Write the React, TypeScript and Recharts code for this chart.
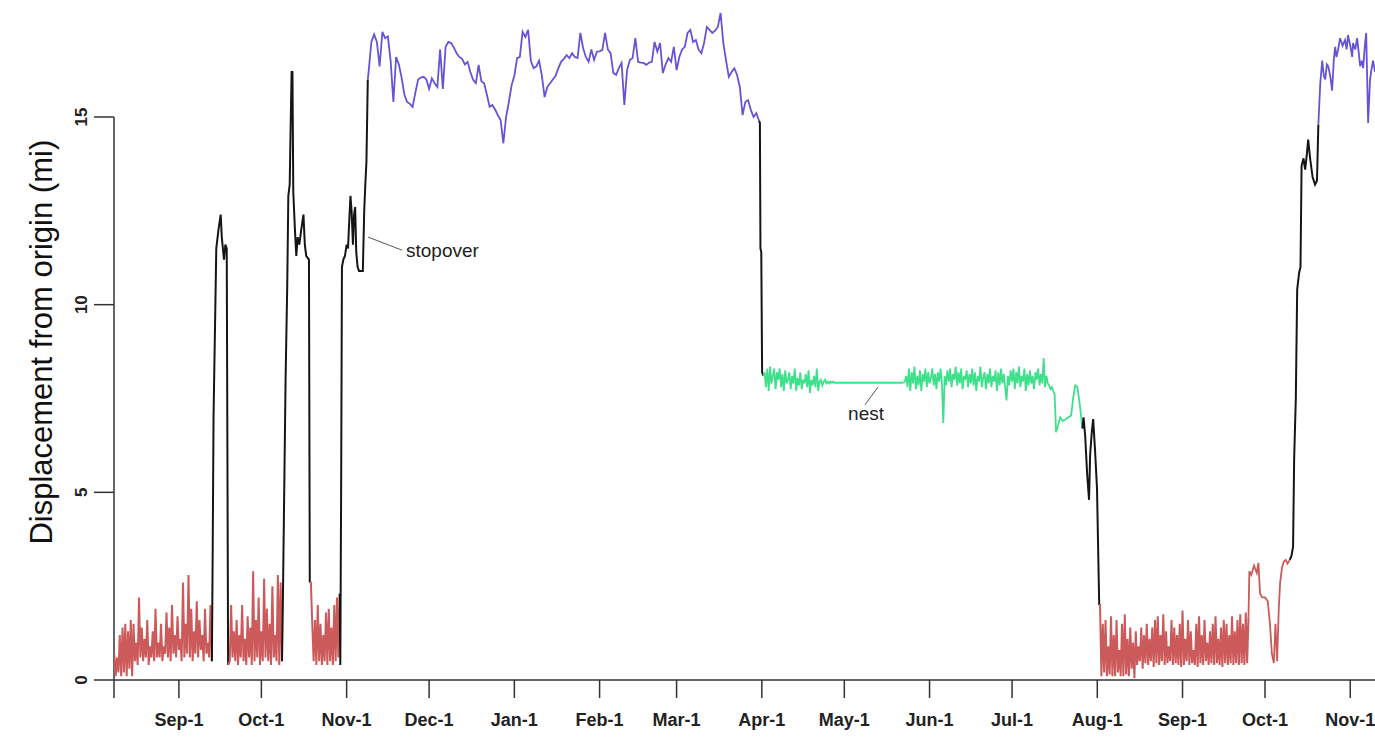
import React from 'react';
import { LineChart, Line, XAxis, YAxis, ReferenceLine, ReferenceDot } from 'recharts';

// x = days since Aug-1 of the first year
const DAY_MIN = 7.4;
const DAY_MAX = 466;
const tickDays = [7.4, 31, 61, 92, 122, 153, 184, 212, 243, 273, 304, 334, 365, 396, 426, 457];
const tickLabels = ['', 'Sep-1', 'Oct-1', 'Nov-1', 'Dec-1', 'Jan-1', 'Feb-1', 'Mar-1', 'Apr-1', 'May-1', 'Jun-1', 'Jul-1', 'Aug-1', 'Sep-1', 'Oct-1', 'Nov-1'];
const yTicks = [0, 5, 10, 15];

const RED = '#cc5a5a';
const BLACK = '#151515';
const BLUE = '#6454d8';
const GREEN = '#3fe08c';

// wintering area, fall 1 (half-day fixes from day 7.5)
const redA = [
  0.7, 0.1, 0.6, 0.2, 1.2, 0.1, 1.4, 0.2, 1.5, 0.1,
  1.3, 0.3, 1.6, 0.1, 1.5, 0.5, 1.0, 0.4, 2.2, 0.6,
  1.4, 0.5, 1.1, 0.6, 1.6, 0.4, 0.9, 0.6, 1.3, 0.5,
  1.9, 0.6, 1.0, 0.6, 1.5, 0.5, 0.9, 0.7, 1.8, 0.6,
  1.4, 0.5, 2.0, 0.7, 1.2, 0.6, 1.7, 0.8, 1.1, 0.5,
  2.6, 0.6, 1.5, 0.7, 2.8, 0.6, 1.9, 0.5, 1.3, 0.7,
  2.1, 0.6, 1.6, 0.8, 1.2, 0.5, 1.9, 0.7, 1.0, 0.6,
  2.0, 0.5,
];
const black1Days = [43.3, 43.6, 44.6, 45.4, 46.2, 46.6, 47.4, 47.9, 48.4, 48.9];
const black1 = [3.5, 7.0, 11.5, 12.0, 12.4, 11.8, 11.2, 11.6, 11.5, 0.4];
const redB = [
  0.5, 2.0, 0.6, 1.3, 0.5, 1.6, 0.4, 1.2, 0.6, 2.0,
  0.5, 1.1, 0.4, 1.7, 0.6, 1.4, 0.4, 2.9, 0.5, 1.6,
  0.6, 2.2, 0.4, 1.3, 0.5, 2.7, 0.6, 1.9, 0.5, 1.5,
  0.4, 2.5, 0.6, 1.2, 0.5, 2.8, 0.4, 2.6, 0.5,
];
const black2Days = [68.8, 69.3, 69.8, 70.4, 70.8, 71.3, 71.7, 72.0, 72.3, 72.6, 73.2, 73.7, 74.2, 74.8, 75.5, 76.3, 76.8, 77.3, 78.3, 78.6];
const black2 = [2.0, 5.0, 8.0, 10.5, 12.9, 13.2, 15.0, 16.2, 16.2, 13.0, 12.0, 11.3, 11.8, 11.6, 12.0, 12.4, 11.6, 11.3, 11.2, 2.6];
const redC = [
  2.6, 1.5, 0.5, 1.6, 0.4, 2.0, 0.5, 1.5, 0.4, 1.2,
  0.5, 1.8, 0.4, 1.9, 0.5, 1.4, 0.4, 2.0, 0.5, 2.2,
  0.6, 2.3,
];
const black3Days = [89.7, 90.0, 90.3, 90.8, 91.4, 92.0, 92.5, 93.0, 93.4, 93.8, 94.3, 94.7, 95.1, 95.5, 96.0, 96.5, 97.2, 97.9, 98.4, 98.8, 99.2, 99.7];
const black3 = [0.4, 5.0, 11.0, 11.2, 11.3, 11.6, 11.5, 12.3, 12.9, 12.5, 11.6, 12.4, 12.6, 11.4, 11.0, 10.9, 10.9, 10.9, 12.5, 13.2, 13.8, 16.0];

// winter range, daily from day 100
const blueA = [
  16.2, 17.0, 17.2, 17.0, 16.35, 17.27, 17.1, 17.15, 16.5, 15.4,
  16.6, 16.4, 16.05, 15.6, 15.4, 15.35, 15.27, 15.65, 16.0, 16.05,
  16.07, 16.0, 15.75, 16.03, 15.9, 15.8, 16.8, 15.75, 16.87, 17.0,
  16.97, 16.85, 16.7, 16.6, 16.55, 16.4, 16.47, 16.2, 15.99, 15.9,
  16.39, 15.95, 15.9, 15.6, 15.27, 15.32, 15.2, 15.05, 14.92, 14.3,
  15.0, 15.4, 15.85, 16.1, 16.57, 16.6, 17.27, 17.13, 17.32, 16.5,
  16.3, 16.35, 16.5, 16.1, 15.53, 15.8, 15.9, 16.0, 16.1, 16.3,
  16.47, 16.55, 16.65, 16.57, 16.7, 16.6, 16.57, 17.24, 16.84, 16.6,
  16.47, 16.8, 16.52, 16.74, 16.75, 16.79, 17.24, 16.8, 16.7, 16.17,
  16.12, 16.3, 16.44, 15.32, 16.25, 16.52, 16.57, 17.1, 16.47, 16.45,
  16.44, 16.39, 16.45, 16.47, 17.0, 16.74, 16.97, 16.17, 16.4, 16.57,
  16.47, 16.87, 16.25, 16.6, 16.8, 16.87, 17.24, 17.32, 17.0, 17.05,
  16.8, 16.7, 16.97, 17.4, 17.32, 17.24, 17.3, 17.4, 17.77, 16.97,
  16.5, 16.07, 16.2, 16.3, 16.12, 15.8, 15.05, 15.4, 15.45, 15.19,
  15.0, 15.1, 14.9,
];
const black4Days = [242.3, 242.5, 242.8, 243.1, 243.6];
const black4 = [14.84, 11.5, 11.4, 8.2, 8.1];

// nesting, half-day fixes from day 244
const greenA = [
  8.2, 7.8, 8.3, 7.7, 8.35, 7.9, 8.1, 8.3, 7.75, 8.2,
  8.0, 8.3, 7.8, 8.15, 7.7, 8.25, 7.9, 8.0, 8.2, 7.75,
  8.1, 7.9, 8.3, 7.7, 8.05, 7.85, 8.2, 7.75, 8.0, 7.9,
  8.15, 7.8, 8.25, 7.65, 8.0, 7.85, 8.1, 7.8, 8.3, 7.7,
  7.95, 8.0, 7.85, 7.95, 8.0, 7.9, 7.95, 7.9, 7.95, 7.92,
  7.95, 7.92, 7.92,
];
const greenBDays = [272, 280, 290, 294.5];
const greenB = [7.92, 7.92, 7.92, 7.92];
const greenC = [
  7.95, 8.1, 7.8, 8.3, 7.7, 8.2, 7.9, 8.35, 7.75, 8.1,
  7.85, 8.25, 7.7, 8.15, 7.95, 8.3, 7.8, 8.2, 7.9, 8.05,
  8.3, 7.85, 8.15, 7.75, 8.2, 7.95, 8.3, 7.9, 6.85, 8.1,
  7.85, 8.25, 7.95, 8.3, 7.8, 8.15, 8.0, 8.35, 7.85, 8.2,
  7.9, 8.3, 7.75, 8.1, 8.0, 8.25, 7.8, 8.15, 7.9, 8.3,
  7.85, 8.2, 7.7, 8.1, 7.95, 8.35, 7.8, 8.05, 8.2, 7.75,
  8.15, 7.9, 8.3, 7.8, 8.1, 7.95, 8.25, 7.7, 8.2, 7.85,
  8.3, 7.9, 8.15, 7.8, 7.45, 8.1, 7.85, 8.25, 7.95, 8.3,
  7.75, 8.2, 7.9, 8.35, 7.8, 8.1, 7.95, 8.3, 7.7, 8.15,
  7.85, 8.25, 7.9, 8.1, 7.75, 8.2, 8.0, 8.3, 7.85, 8.15,
  7.9, 8.58, 7.8, 8.1, 7.9, 7.85, 7.75, 7.8, 7.7,
];
const greenDDays = [349.5, 350.0, 350.8, 351.5, 352.5, 353.5, 354.5, 355.5, 356.2, 357.0, 357.8, 358.7, 359.6];
const greenD = [7.6, 6.6, 6.8, 7.0, 6.9, 6.95, 7.0, 7.05, 7.5, 7.85, 7.8, 7.3, 6.7];
const black5Days = [360.0, 360.6, 361.3, 362.0, 362.4, 363.0, 363.5, 364.2, 364.9, 365.7];
const black5 = [7.0, 6.5, 5.5, 4.8, 6.0, 6.6, 6.95, 6.1, 5.1, 2.0];

// fall 2, half-day fixes from day 366
const redD = [
  2.0, 0.1, 1.5, 0.2, 1.6, 0.1, 0.9, 0.15, 1.7, 0.1,
  1.2, 0.1, 1.6, 0.2, 0.8, 0.1, 1.5, 0.1, 1.75, 0.15,
  1.1, 0.1, 1.4, 0.3, 1.0, 0.05, 1.3, 0.4, 0.9, 0.5,
  1.4, 0.3, 1.2, 0.45, 1.5, 0.4, 1.1, 0.5, 1.4, 0.35,
  1.6, 0.45, 1.7, 0.4, 1.2, 0.5, 1.75, 0.4, 1.3, 0.45,
  0.9, 0.5, 1.6, 0.4, 1.4, 0.45, 1.2, 0.4, 1.5, 0.35,
  1.85, 0.4, 1.1, 0.5, 1.6, 0.4, 1.3, 0.45, 0.8, 0.4,
  1.5, 0.35, 1.7, 0.45, 1.2, 0.4, 1.6, 0.5, 1.0, 0.4,
  1.3, 0.45, 1.5, 0.4, 1.7, 0.45, 1.1, 0.4, 1.4, 0.35,
  1.6, 0.45, 1.5, 0.4, 1.2, 0.45, 1.7, 0.4, 1.3, 0.45,
  1.6, 0.4, 1.75, 0.45, 1.5, 0.4, 1.8, 0.45, 1.7,
];
const redEDays = [420.3, 421.0, 422.0, 423.0, 423.6, 424.2, 425.0, 426.0, 427.0, 427.8, 428.5, 429.2, 429.8, 430.4, 431.0, 431.5, 432.2, 432.8, 433.5, 434.2, 435.0];
const redE = [2.9, 2.8, 3.05, 2.85, 3.12, 2.3, 2.2, 2.2, 2.1, 1.5, 0.7, 0.45, 1.5, 0.5, 1.9, 2.6, 3.0, 3.15, 3.2, 3.1, 3.2];
const black6Days = [435.6, 436.2, 436.6, 437.2, 437.7, 438.4, 438.9, 439.3, 440.0, 440.6, 441.2, 441.7, 442.4, 443.3, 444.2, 444.9, 445.4];
const black6 = [3.3, 3.55, 5.9, 7.5, 10.4, 10.85, 11.0, 13.7, 13.9, 13.6, 14.0, 14.4, 13.9, 13.4, 13.2, 13.3, 14.8];
const blueBDays = [446.1, 446.8, 447.4, 447.9, 448.5, 449.0, 449.7, 450.4, 451.0, 451.5, 452.0, 452.6, 453.3, 454.2, 455.1, 455.7, 456.2, 457.0, 457.7, 458.0, 458.8, 459.5, 460.1, 460.6, 461.2, 461.7, 462.3, 462.8, 463.5, 464.2, 464.8, 465.3, 466.0];
const blueB = [15.9, 16.5, 16.1, 16.0, 16.4, 16.35, 16.1, 15.7, 16.5, 16.87, 16.6, 16.8, 17.1, 16.9, 17.05, 16.8, 17.18, 16.9, 16.6, 16.97, 16.8, 17.1, 16.7, 16.35, 16.5, 16.3, 16.9, 17.24, 14.84, 16.0, 16.3, 16.5, 16.2];

type Pt = { day: number; mi: number };
const even = (start: number, step: number, vals: number[]): Pt[] =>
  vals.map((mi, i) => ({ day: start + i * step, mi }));
const paired = (days: number[], vals: number[]): Pt[] => days.map((day, i) => ({ day, mi: vals[i] }));

const rawSegments: { color: string; width: number; pts: Pt[] }[] = [
  { color: RED, width: 2, pts: even(7.5, 0.5, redA) },
  { color: BLACK, width: 2, pts: paired(black1Days, black1) },
  { color: RED, width: 2, pts: even(49.5, 0.5, redB) },
  { color: BLACK, width: 2, pts: paired(black2Days, black2) },
  { color: RED, width: 2, pts: even(79, 0.5, redC) },
  { color: BLACK, width: 2, pts: paired(black3Days, black3) },
  { color: BLUE, width: 1.8, pts: even(100, 1, blueA) },
  { color: BLACK, width: 2, pts: paired(black4Days, black4) },
  { color: GREEN, width: 1.8, pts: even(244, 0.5, greenA) },
  { color: GREEN, width: 1.8, pts: paired(greenBDays, greenB) },
  { color: GREEN, width: 1.8, pts: even(295, 0.5, greenC) },
  { color: GREEN, width: 1.8, pts: paired(greenDDays, greenD) },
  { color: BLACK, width: 2, pts: paired(black5Days, black5) },
  { color: RED, width: 2, pts: even(366, 0.5, redD) },
  { color: RED, width: 1.8, pts: paired(redEDays, redE) },
  { color: BLACK, width: 2, pts: paired(black6Days, black6) },
  { color: BLUE, width: 1.8, pts: paired(blueBDays, blueB) },
];

// each segment starts where the previous one ended so the track is continuous
const segments = rawSegments.map((s, i) =>
  i === 0 ? s : { ...s, pts: [rawSegments[i - 1].pts[rawSegments[i - 1].pts.length - 1], ...s.pts] }
);

const FONT = '"Liberation Sans", Arial, sans-serif';

const XTick = ({ x, y, payload }: any) => (
  <text x={x} y={y} dy="0.71em" textAnchor="middle" fontFamily={FONT} fontSize={18} fontWeight="bold" fill="#222">
    {tickLabels[tickDays.indexOf(payload.value)]}
  </text>
);

const YTick = ({ x, y, payload }: any) => (
  <text transform={`translate(${x - 5},${y}) rotate(-90)`} textAnchor="middle" fontFamily={FONT} fontSize={17} fontWeight="bold" fill="#222">
    {payload.value}
  </text>
);

const YTitle = ({ viewBox }: any) => {
  const cx = viewBox.x + 52;
  const cy = viewBox.y + viewBox.height / 2;
  return (
    <text transform={`translate(${cx},${cy}) rotate(-90)`} textAnchor="middle" fontFamily={FONT} fontSize={31} fill="#111">
      Displacement from origin (mi)
    </text>
  );
};

const note = (label: string) => (props: any) => (
  <text x={props.cx} y={props.cy} dy={6} fontFamily={FONT} fontSize={19} fill="#222">
    {label}
  </text>
);
const centerNote = (label: string) => (props: any) => (
  <text x={props.cx} y={props.cy} dy={6} textAnchor="middle" fontFamily={FONT} fontSize={19} fill="#222">
    {label}
  </text>
);

export default function App() {
  return (
    <div style={{ position: 'absolute', left: 0, top: 0, width: 1375, height: 737, background: '#fff' }}>
      <LineChart width={1375} height={737} margin={{ top: 4.4, right: 0, bottom: 0, left: 0 }}>
        <XAxis
          type="number"
          dataKey="day"
          domain={[DAY_MIN, DAY_MAX]}
          allowDataOverflow
          ticks={tickDays}
          interval={0}
          height={57}
          tickSize={18}
          tickMargin={15}
          axisLine={{ stroke: '#333', strokeWidth: 1.5 }}
          tickLine={{ stroke: '#333', strokeWidth: 1.5 }}
          tick={<XTick />}
        />
        <YAxis
          type="number"
          domain={[0, 18]}
          allowDataOverflow
          ticks={yTicks}
          interval={0}
          width={114}
          tickSize={20}
          axisLine={false}
          tickLine={{ stroke: '#333', strokeWidth: 1.5 }}
          tick={<YTick />}
          label={<YTitle />}
        />
        <ReferenceLine
          segment={[{ x: DAY_MIN, y: 0 }, { x: DAY_MIN, y: 15 }]}
          stroke="#333"
          strokeWidth={1.5}
          ifOverflow="visible"
        />
        {segments.map((s, i) => (
          <Line
            key={i}
            data={s.pts}
            dataKey="mi"
            type="linear"
            stroke={s.color}
            strokeWidth={s.width}
            dot={false}
            activeDot={false}
            isAnimationActive={false}
          />
        ))}
        <ReferenceLine segment={[{ x: 99.8, y: 11.8 }, { x: 112.2, y: 11.45 }]} stroke="#555" strokeWidth={1} />
        <ReferenceDot x={113.6} y={11.43} r={0} shape={note('stopover')} />
        <ReferenceLine segment={[{ x: 285.3, y: 7.81 }, { x: 280.5, y: 7.33 }]} stroke="#555" strokeWidth={1} />
        <ReferenceDot x={280.9} y={7.09} r={0} shape={centerNote('nest')} />
      </LineChart>
    </div>
  );
}
